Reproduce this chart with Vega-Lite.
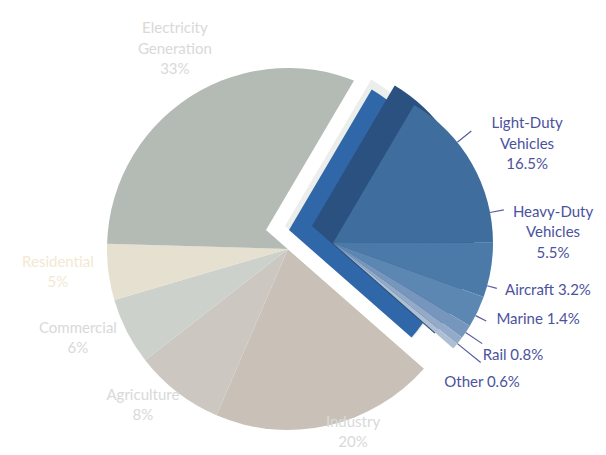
{
  "$schema": "https://vega.github.io/schema/vega-lite/v6.json",
  "width": 576,
  "height": 412,
  "padding": {"left": 0, "top": 43, "right": 30, "bottom": 0},
  "autosize": {"type": "none"},
  "background": "white",
  "config": {"view": {"stroke": null}},
  "data": {
    "values": [
      {"sector": "Light-Duty Vehicles", "label": "Light-Duty\nVehicles\n16.5%", "group": "Transportation", "value": 16.5, "order": 1},
      {"sector": "Heavy-Duty Vehicles", "label": "Heavy-Duty\nVehicles\n5.5%", "group": "Transportation", "value": 5.5, "order": 2},
      {"sector": "Aircraft", "label": "Aircraft 3.2%", "group": "Transportation", "value": 3.2, "order": 3},
      {"sector": "Marine", "label": "Marine 1.4%", "group": "Transportation", "value": 1.4, "order": 4},
      {"sector": "Rail", "label": "Rail 0.8%", "group": "Transportation", "value": 0.8, "order": 5},
      {"sector": "Other", "label": "Other 0.6%", "group": "Transportation", "value": 0.6, "order": 6},
      {"sector": "Industry", "label": "Industry\n20%", "group": "Other sectors", "value": 20, "order": 7},
      {"sector": "Agriculture", "label": "Agriculture\n8%", "group": "Other sectors", "value": 8, "order": 8},
      {"sector": "Commercial", "label": "Commercial\n6%", "group": "Other sectors", "value": 6, "order": 9},
      {"sector": "Residential", "label": "Residential\n5%", "group": "Other sectors", "value": 5, "order": 10},
      {"sector": "Electricity Generation", "label": "Electricity\nGeneration\n33%", "group": "Other sectors", "value": 33, "order": 11}
    ]
  },
  "transform": [
    {"stack": "value", "groupby": [], "sort": [{"field": "order", "order": "ascending"}], "as": ["v0", "v1"]}
  ],
  "resolve": {"scale": {"theta": "independent", "radius": "independent", "color": "independent"}},
  "layer": [
    {
      "transform": [{"filter": "datum.group !== 'Transportation'"}],
      "mark": {"type": "arc", "radius": 181},
      "encoding": {
        "theta": {"field": "v0", "type": "quantitative", "stack": null, "scale": {"domain": [0, 100], "range": [0.532, 6.815], "nice": false, "zero": false}},
        "theta2": {"field": "v1"},
        "color": {"field": "sector", "type": "nominal", "legend": null,
          "scale": {"domain": ["Industry", "Agriculture", "Commercial", "Residential", "Electricity Generation"],
                    "range": ["#c9c1b8", "#ccc7c1", "#cdd1cc", "#e5e0cf", "#b3bbb4"]}}
      }
    },
    {
      "transform": [
        {"filter": "datum.group === 'Transportation'"},
        {"aggregate": [{"op": "min", "field": "v0", "as": "v0"}, {"op": "max", "field": "v1", "as": "v1"}]}
      ],
      "mark": {"type": "arc", "radius": 215, "color": "#ffffff", "xOffset": -22, "yOffset": -19},
      "encoding": {
        "theta": {"field": "v0", "type": "quantitative", "stack": null, "scale": {"domain": [0, 100], "range": [0.532, 6.815], "nice": false, "zero": false}},
        "theta2": {"field": "v1"}
      }
    },
    {
      "transform": [
        {"filter": "datum.group === 'Transportation'"},
        {"aggregate": [{"op": "min", "field": "v0", "as": "v0"}, {"op": "max", "field": "v1", "as": "v1"}]}
      ],
      "mark": {"type": "arc", "radius": 170, "color": "#eceeec", "xOffset": -3, "yOffset": -23},
      "encoding": {
        "theta": {"field": "v0", "type": "quantitative", "stack": null, "scale": {"domain": [0, 100], "range": [0.532, 6.815], "nice": false, "zero": false}},
        "theta2": {"field": "v1"}
      }
    },
    {
      "transform": [
        {"filter": "datum.group === 'Transportation'"},
        {"aggregate": [{"op": "min", "field": "v0", "as": "v0"}, {"op": "max", "field": "v1", "as": "v1"}]}
      ],
      "mark": {"type": "arc", "radius": 163, "color": "#2f67a9", "xOffset": 1, "yOffset": -19},
      "encoding": {
        "theta": {"field": "v0", "type": "quantitative", "stack": null, "scale": {"domain": [0, 100], "range": [0.532, 6.815], "nice": false, "zero": false}},
        "theta2": {"field": "v1"}
      }
    },
    {
      "transform": [
        {"filter": "datum.group === 'Transportation'"},
        {"aggregate": [{"op": "min", "field": "v0", "as": "v0"}, {"op": "max", "field": "v1", "as": "v1"}]}
      ],
      "mark": {"type": "arc", "radius": 163, "color": "#2a5180", "xOffset": 24, "yOffset": -23},
      "encoding": {
        "theta": {"field": "v0", "type": "quantitative", "stack": null, "scale": {"domain": [0, 100], "range": [0.532, 6.815], "nice": false, "zero": false}},
        "theta2": {"field": "v1"}
      }
    },
    {
      "transform": [{"filter": "datum.group === 'Transportation'"}],
      "mark": {"type": "arc", "radius": 160, "xOffset": 45, "yOffset": -6},
      "encoding": {
        "theta": {"field": "v0", "type": "quantitative", "stack": null, "scale": {"domain": [0, 100], "range": [0.532, 6.815], "nice": false, "zero": false}},
        "theta2": {"field": "v1"},
        "color": {"field": "sector", "type": "nominal", "legend": null,
          "scale": {"domain": ["Light-Duty Vehicles", "Heavy-Duty Vehicles", "Aircraft", "Marine", "Rail", "Other"],
                    "range": ["#3e6d9e", "#4b79a8", "#5d87b3", "#7796bd", "#93abc8", "#aebfd3"]}}
      }
    },
    {
      "transform": [{"filter": "datum.group === 'Transportation'"}],
      "mark": {"type": "arc", "radius2": 160, "fill": "transparent", "stroke": "#555ca2", "strokeWidth": 1.2, "xOffset": 45, "yOffset": -6},
      "encoding": {
        "theta": {"field": "order", "type": "quantitative", "stack": null, "scale": {"type": "linear", "domain": [1, 2, 3, 4, 5, 6], "range": [0.890, 1.379, 1.841, 2.042, 2.164, 2.251], "nice": false, "zero": false}},
        "theta2": {"field": "order"},
        "radius": {"field": "order", "type": "quantitative", "scale": {"type": "linear", "domain": [1, 2, 3, 4, 5, 6], "range": [178, 174, 170, 172, 180, 190], "nice": false, "zero": false}}
      }
    },
    {
      "mark": {"type": "text", "font": "Lato", "fontSize": 15, "align": "center", "baseline": "middle", "lineBreak": "\n", "lineHeight": 20.5},
      "encoding": {
        "theta": {"field": "order", "type": "quantitative", "stack": null, "scale": {"type": "linear", "domain": [1, 2, 3, 4, 5, 6, 7, 8, 9, 10, 11], "range": [1.086, 1.432, 1.728, 1.843, 2.011, 2.171, 2.782, 3.924, 4.353, 4.656, 5.810], "nice": false, "zero": false}},
        "radius": {"field": "order", "type": "quantitative", "scale": {"type": "linear", "domain": [1, 2, 3, 4, 5, 6, 7, 8, 9, 10, 11], "range": [270.2, 267.6, 263.2, 259.6, 248.7, 235.2, 184.8, 205.8, 224.4, 230.4, 248.2], "nice": false, "zero": false}},
        "text": {"field": "label"},
        "color": {
          "condition": [
            {"test": "datum.group === 'Transportation'", "value": "#4b529e"},
            {"test": "datum.sector === 'Residential'", "value": "#f2e9d0"}
          ],
          "value": "#d9d9d9"
        }
      }
    }
  ]
}
